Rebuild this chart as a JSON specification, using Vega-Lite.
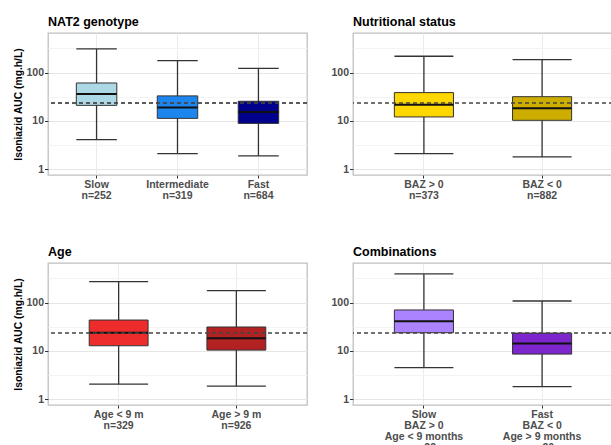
{
  "$schema": "https://vega.github.io/schema/vega-lite/v6.json",
  "padding": {"left": 13, "top": 14, "right": 0, "bottom": 0},
  "background": "white",
  "config": {
    "font": "Liberation Sans",
    "view": {"stroke": "#c0c0c0", "strokeWidth": 1.3},
    "scale": {"bandPaddingInner": 0.5, "bandPaddingOuter": 0.35},
    "title": {"anchor": "start", "frame": "group", "fontSize": 12.5, "fontWeight": "bold", "color": "#000000", "offset": 5},
    "axisX": {"labelAngle": 0, "bandPosition": 0.5, "grid": true, "gridColor": "#ebebeb", "domain": false, "tickColor": "#333333", "tickSize": 3, "labelFontWeight": "bold", "labelColor": "#4d4d4d", "labelFontSize": 10.5, "labelLineHeight": 11, "labelPadding": 1, "labelExpr": "split(datum.label, '|')"},
    "axisY": {"domain": false, "tickColor": "#333333", "titleFontWeight": "bold", "titleFontSize": 10.3, "titleColor": "#000000", "titlePadding": 2, "labelFontWeight": "bold", "labelColor": "#4d4d4d", "labelFontSize": 10.5, "labelPadding": 1}
  },
  "datasets": {
    "nat2": [
      {"cat": "Slow|n=252", "lo": 4.1, "q1": 21, "med": 36, "q3": 61, "hi": 310},
      {"cat": "Intermediate|n=319", "lo": 2.1, "q1": 11.3, "med": 19, "q3": 33, "hi": 177},
      {"cat": "Fast|n=684", "lo": 1.9, "q1": 8.9, "med": 15.3, "q3": 25.5, "hi": 123}
    ],
    "nut": [
      {"cat": "BAZ > 0|n=373", "lo": 2.1, "q1": 12.1, "med": 21.7, "q3": 38.6, "hi": 218},
      {"cat": "BAZ < 0|n=882", "lo": 1.8, "q1": 10.3, "med": 18.2, "q3": 31.8, "hi": 186}
    ],
    "age": [
      {"cat": "Age < 9 m|n=329", "lo": 2.05, "q1": 12.8, "med": 23.8, "q3": 43.6, "hi": 273},
      {"cat": "Age > 9 m|n=926", "lo": 1.86, "q1": 10.4, "med": 18.2, "q3": 31.3, "hi": 177}
    ],
    "comb": [
      {"cat": "Slow|BAZ > 0|Age < 9 months|n=22", "lo": 4.5, "q1": 23.8, "med": 41, "q3": 70.5, "hi": 393},
      {"cat": "Fast|BAZ < 0|Age > 9 months|n=20", "lo": 1.83, "q1": 8.6, "med": 14.3, "q3": 23.4, "hi": 108}
    ]
  },
  "concat": [
    {
      "width": 259, "height": 142,
      "title": "NAT2 genotype",
      "data": {"name": "nat2"},
      "layer": [
        {"mark": {"type": "rule", "color": "#333333", "strokeWidth": 1.3},
         "encoding": {
           "x": {"field": "cat", "type": "nominal", "sort": null, "title": null},
           "y": {"field": "lo", "type": "quantitative", "scale": {"type": "log", "domain": [0.76, 661], "nice": false},
                 "title": "Isoniazid AUC (mg.h/L)",
                 "axis": {"values": [1, 3.1623, 10, 31.623, 100, 316.23],
                          "labelExpr": "datum.value == 1 || datum.value == 10 || datum.value == 100 ? format(datum.value, 'd') : ''",
                          "tickOpacity": {"condition": {"test": "datum.value == 1 || datum.value == 10 || datum.value == 100", "value": 1}, "value": 0},
                          "tickSize": 3.5,
                          "gridColor": {"condition": {"test": "datum.value == 1 || datum.value == 10 || datum.value == 100", "value": "#e6e6e6"}, "value": "#f3f3f3"}}},
           "y2": {"field": "hi"}}},
        {"mark": {"type": "tick", "color": "#333333", "thickness": 1.3, "size": 40.5, "opacity": 1},
         "encoding": {"x": {"field": "cat", "type": "nominal", "sort": null}, "y": {"field": "hi", "type": "quantitative"}}},
        {"mark": {"type": "tick", "color": "#333333", "thickness": 1.3, "size": 40.5, "opacity": 1},
         "encoding": {"x": {"field": "cat", "type": "nominal", "sort": null}, "y": {"field": "lo", "type": "quantitative"}}},
        {"mark": {"type": "bar", "stroke": "#333333", "strokeWidth": 1, "opacity": 1},
         "encoding": {"x": {"field": "cat", "type": "nominal", "sort": null}, "y": {"field": "q1", "type": "quantitative"}, "y2": {"field": "q3"},
                      "color": {"field": "cat", "type": "nominal", "legend": null,
                                "scale": {"domain": ["Slow|n=252", "Intermediate|n=319", "Fast|n=684"], "range": ["#ADD8E6", "#1C86EE", "#00008B"]}}}},
        {"mark": {"type": "tick", "color": "#111111", "thickness": 2, "size": 40.5, "opacity": 1},
         "encoding": {"x": {"field": "cat", "type": "nominal", "sort": null}, "y": {"field": "med", "type": "quantitative"}}},
        {"mark": {"type": "rule", "color": "#444444", "strokeDash": [4, 3], "strokeWidth": 1.2},
         "encoding": {"y": {"datum": 23.5}}}
      ]
    },
    {
      "width": 260, "height": 142,
      "title": "Nutritional status",
      "data": {"name": "nut"},
      "layer": [
        {"mark": {"type": "rule", "color": "#333333", "strokeWidth": 1.3},
         "encoding": {
           "x": {"field": "cat", "type": "nominal", "sort": null, "title": null},
           "y": {"field": "lo", "type": "quantitative", "scale": {"type": "log", "domain": [0.76, 661], "nice": false},
                 "title": null,
                 "axis": {"values": [1, 3.1623, 10, 31.623, 100, 316.23],
                          "labelExpr": "datum.value == 1 || datum.value == 10 || datum.value == 100 ? format(datum.value, 'd') : ''",
                          "tickOpacity": {"condition": {"test": "datum.value == 1 || datum.value == 10 || datum.value == 100", "value": 1}, "value": 0},
                          "tickSize": 3.5,
                          "gridColor": {"condition": {"test": "datum.value == 1 || datum.value == 10 || datum.value == 100", "value": "#e6e6e6"}, "value": "#f3f3f3"}}},
           "y2": {"field": "hi"}}},
        {"mark": {"type": "tick", "color": "#333333", "thickness": 1.3, "size": 59, "opacity": 1},
         "encoding": {"x": {"field": "cat", "type": "nominal", "sort": null}, "y": {"field": "hi", "type": "quantitative"}}},
        {"mark": {"type": "tick", "color": "#333333", "thickness": 1.3, "size": 59, "opacity": 1},
         "encoding": {"x": {"field": "cat", "type": "nominal", "sort": null}, "y": {"field": "lo", "type": "quantitative"}}},
        {"mark": {"type": "bar", "stroke": "#333333", "strokeWidth": 1, "opacity": 1},
         "encoding": {"x": {"field": "cat", "type": "nominal", "sort": null}, "y": {"field": "q1", "type": "quantitative"}, "y2": {"field": "q3"},
                      "color": {"field": "cat", "type": "nominal", "legend": null,
                                "scale": {"domain": ["BAZ > 0|n=373", "BAZ < 0|n=882"], "range": ["#FFD700", "#CDAD00"]}}}},
        {"mark": {"type": "tick", "color": "#111111", "thickness": 2, "size": 59, "opacity": 1},
         "encoding": {"x": {"field": "cat", "type": "nominal", "sort": null}, "y": {"field": "med", "type": "quantitative"}}},
        {"mark": {"type": "rule", "color": "#444444", "strokeDash": [4, 3], "strokeWidth": 1.2},
         "encoding": {"y": {"datum": 23.5}}}
      ]
    },
    {
      "width": 259, "height": 142,
      "title": "Age",
      "data": {"name": "age"},
      "layer": [
        {"mark": {"type": "rule", "color": "#333333", "strokeWidth": 1.3},
         "encoding": {
           "x": {"field": "cat", "type": "nominal", "sort": null, "title": null},
           "y": {"field": "lo", "type": "quantitative", "scale": {"type": "log", "domain": [0.76, 661], "nice": false},
                 "title": "Isoniazid AUC (mg.h/L)",
                 "axis": {"values": [1, 3.1623, 10, 31.623, 100, 316.23],
                          "labelExpr": "datum.value == 1 || datum.value == 10 || datum.value == 100 ? format(datum.value, 'd') : ''",
                          "tickOpacity": {"condition": {"test": "datum.value == 1 || datum.value == 10 || datum.value == 100", "value": 1}, "value": 0},
                          "tickSize": 3.5,
                          "gridColor": {"condition": {"test": "datum.value == 1 || datum.value == 10 || datum.value == 100", "value": "#e6e6e6"}, "value": "#f3f3f3"}}},
           "y2": {"field": "hi"}}},
        {"mark": {"type": "tick", "color": "#333333", "thickness": 1.3, "size": 59, "opacity": 1},
         "encoding": {"x": {"field": "cat", "type": "nominal", "sort": null}, "y": {"field": "hi", "type": "quantitative"}}},
        {"mark": {"type": "tick", "color": "#333333", "thickness": 1.3, "size": 59, "opacity": 1},
         "encoding": {"x": {"field": "cat", "type": "nominal", "sort": null}, "y": {"field": "lo", "type": "quantitative"}}},
        {"mark": {"type": "bar", "stroke": "#333333", "strokeWidth": 1, "opacity": 1},
         "encoding": {"x": {"field": "cat", "type": "nominal", "sort": null}, "y": {"field": "q1", "type": "quantitative"}, "y2": {"field": "q3"},
                      "color": {"field": "cat", "type": "nominal", "legend": null,
                                "scale": {"domain": ["Age < 9 m|n=329", "Age > 9 m|n=926"], "range": ["#EE2C2C", "#B22222"]}}}},
        {"mark": {"type": "tick", "color": "#111111", "thickness": 2, "size": 59, "opacity": 1},
         "encoding": {"x": {"field": "cat", "type": "nominal", "sort": null}, "y": {"field": "med", "type": "quantitative"}}},
        {"mark": {"type": "rule", "color": "#444444", "strokeDash": [4, 3], "strokeWidth": 1.2},
         "encoding": {"y": {"datum": 23.5}}}
      ]
    },
    {
      "width": 260, "height": 142,
      "title": "Combinations",
      "data": {"name": "comb"},
      "layer": [
        {"mark": {"type": "rule", "color": "#333333", "strokeWidth": 1.3},
         "encoding": {
           "x": {"field": "cat", "type": "nominal", "sort": null, "title": null},
           "y": {"field": "lo", "type": "quantitative", "scale": {"type": "log", "domain": [0.76, 661], "nice": false},
                 "title": null,
                 "axis": {"values": [1, 3.1623, 10, 31.623, 100, 316.23],
                          "labelExpr": "datum.value == 1 || datum.value == 10 || datum.value == 100 ? format(datum.value, 'd') : ''",
                          "tickOpacity": {"condition": {"test": "datum.value == 1 || datum.value == 10 || datum.value == 100", "value": 1}, "value": 0},
                          "tickSize": 3.5,
                          "gridColor": {"condition": {"test": "datum.value == 1 || datum.value == 10 || datum.value == 100", "value": "#e6e6e6"}, "value": "#f3f3f3"}}},
           "y2": {"field": "hi"}}},
        {"mark": {"type": "tick", "color": "#333333", "thickness": 1.3, "size": 59, "opacity": 1},
         "encoding": {"x": {"field": "cat", "type": "nominal", "sort": null}, "y": {"field": "hi", "type": "quantitative"}}},
        {"mark": {"type": "tick", "color": "#333333", "thickness": 1.3, "size": 59, "opacity": 1},
         "encoding": {"x": {"field": "cat", "type": "nominal", "sort": null}, "y": {"field": "lo", "type": "quantitative"}}},
        {"mark": {"type": "bar", "stroke": "#333333", "strokeWidth": 1, "opacity": 1},
         "encoding": {"x": {"field": "cat", "type": "nominal", "sort": null}, "y": {"field": "q1", "type": "quantitative"}, "y2": {"field": "q3"},
                      "color": {"field": "cat", "type": "nominal", "legend": null,
                                "scale": {"domain": ["Slow|BAZ > 0|Age < 9 months|n=22", "Fast|BAZ < 0|Age > 9 months|n=20"], "range": ["#AB82FF", "#7D26CD"]}}}},
        {"mark": {"type": "tick", "color": "#111111", "thickness": 2, "size": 59, "opacity": 1},
         "encoding": {"x": {"field": "cat", "type": "nominal", "sort": null}, "y": {"field": "med", "type": "quantitative"}}},
        {"mark": {"type": "rule", "color": "#444444", "strokeDash": [4, 3], "strokeWidth": 1.2},
         "encoding": {"y": {"datum": 23.5}}}
      ]
    }
  ],
  "columns": 2,
  "bounds": "flush",
  "align": "none",
  "spacing": {"row": 88, "column": 46},
  "resolve": {"scale": {"x": "independent", "y": "independent", "color": "independent"}}
}
